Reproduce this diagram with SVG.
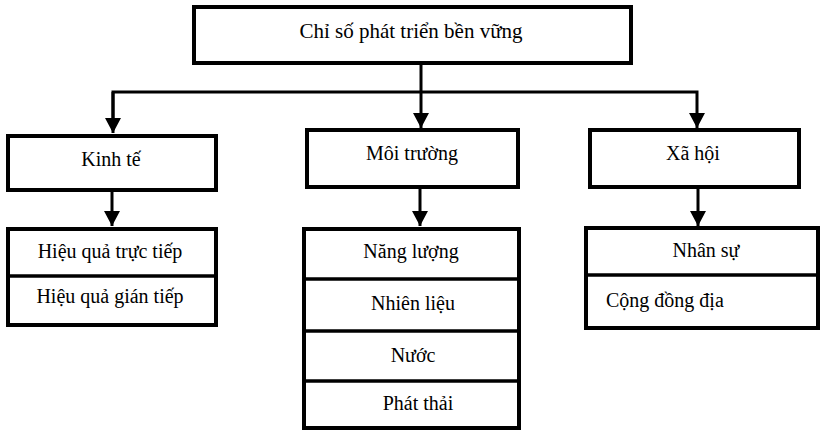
<svg xmlns="http://www.w3.org/2000/svg" width="820" height="431" viewBox="0 0 820 431">
  <style>
    .box { fill: #ffffff; stroke: #000000; stroke-width: 4; }
    .div { stroke: #000000; stroke-width: 3.5; }
    .wire { fill: none; stroke: #000000; stroke-width: 3; }
    text { font-family: "Liberation Serif", "Times New Roman", "DejaVu Serif", serif; font-size: 20px; fill: #000000; }
    .c { text-anchor: middle; }
    .big { font-size: 21px; }
  </style>
  <defs>
    <marker id="arrow" markerUnits="userSpaceOnUse" markerWidth="16" markerHeight="16" refX="15" refY="8" orient="auto">
      <path d="M0,0 L15,8 L0,16 Z" fill="#000000"/>
    </marker>
  </defs>

  <!-- root -->
  <g id="root">
    <rect class="box" x="194" y="7" width="437" height="56"/>
    <text class="c big" x="411" y="38">Chỉ số phát triển bền vững</text>
  </g>

  <!-- connectors -->
  <g id="connectors">
    <path class="wire" d="M421,63 V128" marker-end="url(#arrow)"/>
    <path class="wire" d="M113,130 V92 H697 V128" marker-end="url(#arrow)"/>
    <path class="wire" d="M113,92 V133" marker-end="url(#arrow)"/>
    <path class="wire" d="M112,190 V226" marker-end="url(#arrow)"/>
    <path class="wire" d="M420,187 V226" marker-end="url(#arrow)"/>
    <path class="wire" d="M698,187 V226" marker-end="url(#arrow)"/>
  </g>

  <!-- economy -->
  <g id="kinh-te">
    <rect class="box" x="8" y="136" width="208" height="54"/>
    <text class="c" x="111" y="166">Kinh tế</text>
  </g>
  <g id="kinh-te-items">
    <rect class="box" x="8" y="229" width="208" height="96"/>
    <line class="div" x1="8" y1="276" x2="216" y2="276"/>
    <text class="c" x="110" y="258">Hiệu quả trực tiếp</text>
    <text class="c" x="110" y="303">Hiệu quả gián tiếp</text>
  </g>

  <!-- environment -->
  <g id="moi-truong">
    <rect class="box" x="307" y="130" width="211" height="57"/>
    <text class="c" x="412" y="160">Môi trường</text>
  </g>
  <g id="moi-truong-items">
    <rect class="box" x="304" y="229" width="215" height="199"/>
    <line class="div" x1="304" y1="279" x2="519" y2="279"/>
    <line class="div" x1="304" y1="331" x2="519" y2="331"/>
    <line class="div" x1="304" y1="381" x2="519" y2="381"/>
    <text class="c" x="411" y="258">Năng lượng</text>
    <text class="c" x="413" y="310">Nhiên liệu</text>
    <text class="c" x="413" y="362">Nước</text>
    <text class="c" x="418" y="410">Phát thải</text>
  </g>

  <!-- society -->
  <g id="xa-hoi">
    <rect class="box" x="590" y="130" width="209" height="57"/>
    <text class="c" x="693" y="160">Xã hội</text>
  </g>
  <g id="xa-hoi-items">
    <rect class="box" x="586" y="228" width="232" height="100"/>
    <line class="div" x1="586" y1="275" x2="818" y2="275"/>
    <text class="c" x="706" y="257">Nhân sự</text>
    <text x="606" y="307">Cộng đồng địa</text>
  </g>
</svg>
